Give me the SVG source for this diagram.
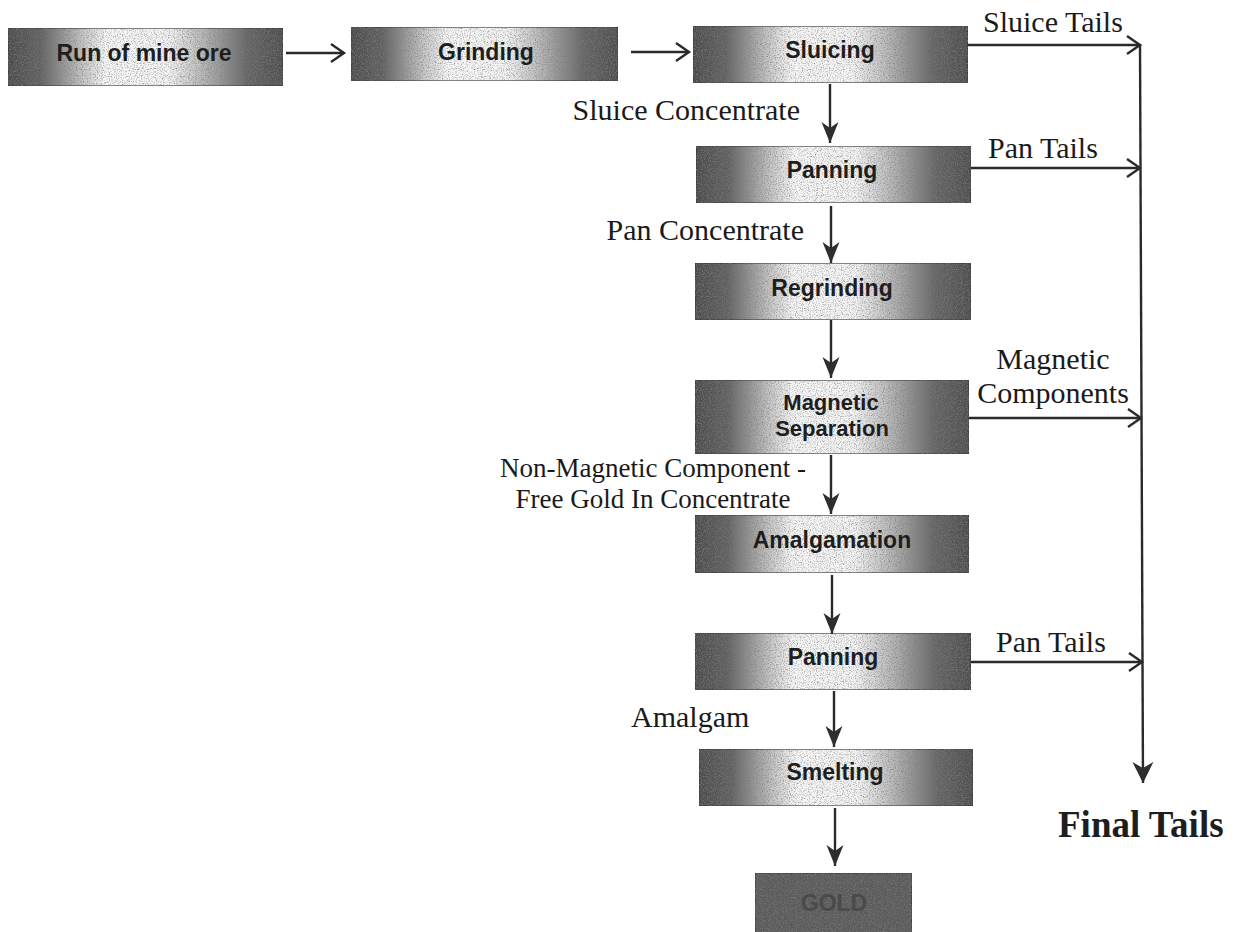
<svg xmlns="http://www.w3.org/2000/svg" width="1250" height="932" viewBox="0 0 1250 932">
<defs>
  <linearGradient id="boxfill" x1="0" y1="0" x2="1" y2="0">
    <stop offset="0" stop-color="#4c4c4c"/>
    <stop offset="0.12" stop-color="#626262"/>
    <stop offset="0.27" stop-color="#c4c4c4"/>
    <stop offset="0.36" stop-color="#f7f7f7"/>
    <stop offset="0.58" stop-color="#f4f4f4"/>
    <stop offset="0.7" stop-color="#bdbdbd"/>
    <stop offset="0.87" stop-color="#666666"/>
    <stop offset="1" stop-color="#4e4e4e"/>
  </linearGradient>
  <filter id="grain" x="0" y="0" width="100%" height="100%">
    <feTurbulence type="fractalNoise" baseFrequency="0.85" numOctaves="2" seed="7" result="n"/>
    <feColorMatrix in="n" type="matrix" values="0 0 0 0 0.2  0 0 0 0 0.2  0 0 0 0 0.2  0 0 0 2.2 -1.0" result="dots"/>
    <feComposite in="dots" in2="SourceGraphic" operator="in" result="clipped"/>
    <feMerge><feMergeNode in="SourceGraphic"/><feMergeNode in="clipped"/></feMerge>
  </filter>
  <marker id="chev" markerUnits="userSpaceOnUse" markerWidth="18" markerHeight="22" refX="14" refY="10" orient="auto">
    <path d="M1,1 L14,10 L1,19" fill="none" stroke="#2a2a2a" stroke-width="2.4"/>
  </marker>
  <marker id="down" markerUnits="userSpaceOnUse" markerWidth="24" markerHeight="20" refX="21" refY="9" orient="auto">
    <path d="M0,0.5 L21,9 L0,17.5 L6,9 Z" fill="#2e2e2e"/>
  </marker>
  <marker id="downbig" markerUnits="userSpaceOnUse" markerWidth="24" markerHeight="24" refX="21" refY="11" orient="auto">
    <path d="M0,0.5 L21,11 L0,21.5 L6,11 Z" fill="#2e2e2e"/>
  </marker>
</defs>
<style>
  .box { fill: url(#boxfill); stroke: #3a3a3a; stroke-width: 1.2; filter: url(#grain); }
  .gold { fill: #5c5c5c; stroke: #3a3a3a; stroke-width: 1.2; filter: url(#grain); }
  .bt { font-family: "Liberation Sans", Arial, sans-serif; font-weight: bold; font-size: 23px; fill: #1e1e1e; text-anchor: middle; }
  .bt2 { font-size: 22px; }
  .lbl { font-family: "Liberation Serif", "Times New Roman", serif; font-size: 30px; fill: #1a1a1a; }
  .sm { font-size: 27px; }
  .end { text-anchor: end; }
  .mid { text-anchor: middle; }
  .conn line { stroke: #2a2a2a; stroke-width: 2.4; }
  .ft { font-family: "Liberation Serif", "Times New Roman", serif; font-size: 37px; font-weight: bold; fill: #1e1e1e; }
</style>
<rect width="1250" height="932" fill="#ffffff"/>

<g id="n-run">
  <rect class="box" x="8" y="28" width="275" height="58"/>
  <text class="bt" x="144" y="61">Run of mine ore</text>
</g>
<g id="n-grinding">
  <rect class="box" x="351" y="27" width="267" height="54"/>
  <text class="bt" x="486" y="60">Grinding</text>
</g>
<g id="n-sluicing">
  <rect class="box" x="693" y="26" width="275" height="57"/>
  <text class="bt" x="830" y="58">Sluicing</text>
</g>
<g id="n-panning1">
  <rect class="box" x="696" y="146" width="275" height="57"/>
  <text class="bt" x="832" y="178">Panning</text>
</g>
<g id="n-regrinding">
  <rect class="box" x="695" y="263" width="276" height="57"/>
  <text class="bt" x="832" y="296">Regrinding</text>
</g>
<g id="n-magsep">
  <rect class="box" x="695" y="380" width="274" height="74"/>
  <text class="bt bt2" x="831" y="410">Magnetic</text>
  <text class="bt bt2" x="832" y="436">Separation</text>
</g>
<g id="n-amalgamation">
  <rect class="box" x="695" y="515" width="274" height="58"/>
  <text class="bt" x="832" y="548">Amalgamation</text>
</g>
<g id="n-panning2">
  <rect class="box" x="695" y="633" width="276" height="57"/>
  <text class="bt" x="833" y="665">Panning</text>
</g>
<g id="n-smelting">
  <rect class="box" x="699" y="749" width="274" height="57"/>
  <text class="bt" x="835" y="780">Smelting</text>
</g>
<g id="n-gold">
  <rect class="gold" x="755" y="873" width="157" height="62"/>
  <text class="bt" x="834" y="911" style="fill:#4a4a4a">GOLD</text>
</g>
<g id="n-final">
  <text class="ft" x="1058" y="837">Final Tails</text>
</g>

<g id="connectors" class="conn">
  <line x1="286" y1="53" x2="344" y2="53" marker-end="url(#chev)"/>
  <line x1="631" y1="52" x2="689" y2="52" marker-end="url(#chev)"/>
  <line x1="968" y1="45" x2="1140" y2="45" marker-end="url(#chev)"/>
  <line x1="971" y1="168" x2="1140" y2="168" marker-end="url(#chev)"/>
  <line x1="969" y1="418" x2="1141" y2="418" marker-end="url(#chev)"/>
  <line x1="971" y1="662" x2="1142" y2="662" marker-end="url(#chev)"/>
  <line x1="1140" y1="44" x2="1143" y2="783" marker-end="url(#downbig)"/>
  <line x1="830" y1="84" x2="830" y2="143" marker-end="url(#down)"/>
  <line x1="831" y1="206" x2="831" y2="263" marker-end="url(#down)"/>
  <line x1="831" y1="320" x2="831" y2="378" marker-end="url(#down)"/>
  <line x1="831" y1="455" x2="831" y2="514" marker-end="url(#down)"/>
  <line x1="832" y1="575" x2="832" y2="634" marker-end="url(#down)"/>
  <line x1="834" y1="691" x2="834" y2="747" marker-end="url(#down)"/>
  <line x1="835" y1="808" x2="835" y2="866" marker-end="url(#down)"/>
</g>

<g id="labels">
  <text class="lbl" x="983" y="32">Sluice Tails</text>
  <text class="lbl end" x="800" y="120">Sluice Concentrate</text>
  <text class="lbl" x="988" y="158">Pan Tails</text>
  <text class="lbl end" x="804" y="240">Pan Concentrate</text>
  <text class="lbl mid" x="1053" y="369">Magnetic</text>
  <text class="lbl mid" x="1053" y="403">Components</text>
  <text class="lbl sm mid" x="653" y="477">Non-Magnetic Component -</text>
  <text class="lbl sm mid" x="653" y="508">Free Gold In Concentrate</text>
  <text class="lbl" x="996" y="652">Pan Tails</text>
  <text class="lbl" x="631" y="727">Amalgam</text>
</g>
</svg>
